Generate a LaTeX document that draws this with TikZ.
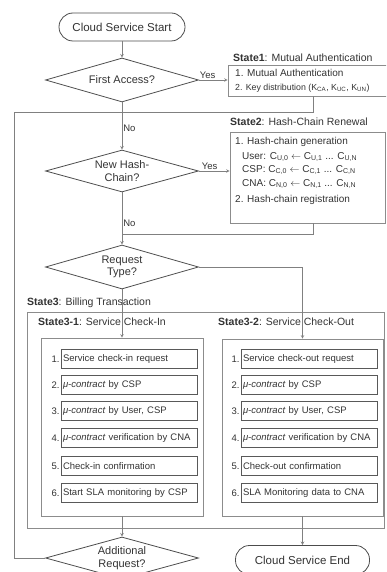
\documentclass[tikz,border=0pt]{standalone}
\usepackage{fontspec}
\setmainfont{Liberation Sans}
\usetikzlibrary{shapes.geometric}
\tikzset{
  every node/.style={text=black!80},
  ln/.style={draw=black!50, line width=0.6pt},
  dec/.style={diamond, draw=black!70, line width=0.8pt, aspect=3.5, inner sep=0pt,
    minimum width=153pt, minimum height=44pt, align=center, font=\fontsize{11}{12.5}\selectfont},
  term/.style={draw=black!70, line width=0.8pt, rounded corners=14pt, minimum width=126pt,
    minimum height=28pt, font=\fontsize{11.5}{12}\selectfont},
  frame/.style={draw=black!45, line width=0.6pt, inner sep=0pt},
  item/.style={draw=black!65, line width=0.6pt, minimum height=19pt, inner sep=2pt,
    text width=132pt, align=left, font=\fontsize{9.5}{11}\selectfont},
  num/.style={font=\fontsize{9.5}{11}\selectfont, inner sep=1pt},
  tag/.style={anchor=west, inner sep=0pt, font=\fontsize{10.5}{12}\selectfont},
  txt/.style={anchor=west, inner sep=0pt, font=\fontsize{10}{11}\selectfont},
  yn/.style={inner sep=1pt, font=\fontsize{9.5}{11}\selectfont},
  >=stealth
}
\newcommand{\mucon}{\textit{μ-contract}}
\begin{document}
\begin{tikzpicture}[x=1pt,y=-1pt]
  \useasboundingbox (0,0) rectangle (386,572);
  \clip (0,0) rectangle (386,572);
  % main column
  \node[term] (start) at (122,27) {Cloud Service Start};
  \node[dec] (fa) at (122,80) {First Access?};
  \node[dec, minimum height=42pt] (nh) at (122,171) {New Hash-\\Chain?};
  \node[dec] (rt) at (122,267) {Request\\Type?};
  \node[dec, minimum height=42pt] (ar) at (122,558) {Additional\\Request?};
  \node[term, minimum width=134pt, minimum height=29pt] (end) at (302.5,560) {Cloud Service End};
  % state 1
  \node[tag] (l1) at (233,58) {\textbf{State1}: Mutual Authentication};
  \node[frame, minimum width=164pt, minimum height=31pt] (s1) at (310,80.5) {};
  \node[txt] (t11) at (235,73) {1. Mutual Authentication};
  \node[txt, font=\fontsize{8.8}{10}\selectfont] (t12) at (235,88) {2. Key distribution (K\textsubscript{CA}, K\textsubscript{UC}, K\textsubscript{UN})};
  % state 2
  \node[tag] (l2) at (230,122) {\textbf{State2}: Hash-Chain Renewal};
  \node[frame, minimum width=155pt, minimum height=91pt] (s2) at (307.5,177.5) {};
  \node[txt] (t21) at (235,142) {1. Hash-chain generation};
  \node[txt] (t22) at (242,157) {User: C\textsubscript{U,0} $\leftarrow$ C\textsubscript{U,1} ... C\textsubscript{U,N}};
  \node[txt] (t23) at (242,170) {CSP: C\textsubscript{C,0} $\leftarrow$ C\textsubscript{C,1} ... C\textsubscript{C,N}};
  \node[txt] (t24) at (242,184) {CNA: C\textsubscript{N,0} $\leftarrow$ C\textsubscript{N,1} ... C\textsubscript{N,N}};
  \node[txt] (t25) at (235,200) {2. Hash-chain registration};
  % state 3
  \node[tag] (l3) at (27,303) {\textbf{State3}: Billing Transaction};
  \node[frame, minimum width=357pt, minimum height=216pt] (s3) at (205.5,420) {};
  \node[tag] (l31) at (38,322) {\textbf{State3-1}: Service Check-In};
  \node[frame, minimum width=162pt, minimum height=178pt] (s31) at (122,427) {};
  \node[tag] (l32) at (218,322) {\textbf{State3-2}: Service Check-Out};
  \node[frame, minimum width=161pt, minimum height=177pt] (s32) at (302.5,427.5) {};
  \node[item, label={[num]left:1.}] (a1) at (129,359) {Service check-in request};
  \node[item, label={[num]left:2.}] (a2) at (129,385) {\mucon{} by CSP};
  \node[item, label={[num]left:3.}] (a3) at (129,411) {\mucon{} by User, CSP};
  \node[item, label={[num]left:4.}] (a4) at (129,438) {\mucon{} verification by CNA};
  \node[item, label={[num]left:5.}] (a5) at (129,466) {Check-in confirmation};
  \node[item, label={[num]left:6.}] (a6) at (129,493) {Start SLA monitoring by CSP};
  \node[item, label={[num]left:1.}] (b1) at (309,359) {Service check-out request};
  \node[item, label={[num]left:2.}] (b2) at (309,385) {\mucon{} by CSP};
  \node[item, label={[num]left:3.}] (b3) at (309,411) {\mucon{} by User, CSP};
  \node[item, label={[num]left:4.}] (b4) at (309,438) {\mucon{} verification by CNA};
  \node[item, label={[num]left:5.}] (b5) at (309,466) {Check-out confirmation};
  \node[item, label={[num]left:6.}] (b6) at (309,493) {SLA Monitoring data to CNA};
  % bends
  \coordinate (j1) at (313,112); \coordinate (j0) at (14,112); \coordinate (j2) at (14,558);
  \coordinate (j3) at (313,234); \coordinate (j4) at (302.5,267);
  % connectors
  \draw[ln,->] (start) -- (fa); \draw[ln,->] (fa) -- node[yn,pos=0.3,above] {Yes} (s1.west |- fa);
  \draw[ln,->] (fa) -- node[yn,pos=0.55,right] {No} (nh); \draw[ln,->] (nh) -- node[yn,pos=0.35,above] {Yes} (s2.west |- nh);
  \draw[ln] (j1 |- s1.south) -- (j1) -- (j0) -- (j2) -- (ar.west);
  \draw[ln,->] (nh) -- node[yn,pos=0.6,right] {No} (rt); \draw[ln] (j3 |- s2.south) -- (j3) -- (j3 -| rt);
  \draw[ln] (rt.east) -- (j4); \draw[ln,->] (j4) -- (s32.north); \draw[ln,->] (rt) -- (s31.north);
  \draw[ln,->] (s31.south) -- (ar); \draw[ln,->] (s32.south) -- (end);
\end{tikzpicture}
\end{document}
